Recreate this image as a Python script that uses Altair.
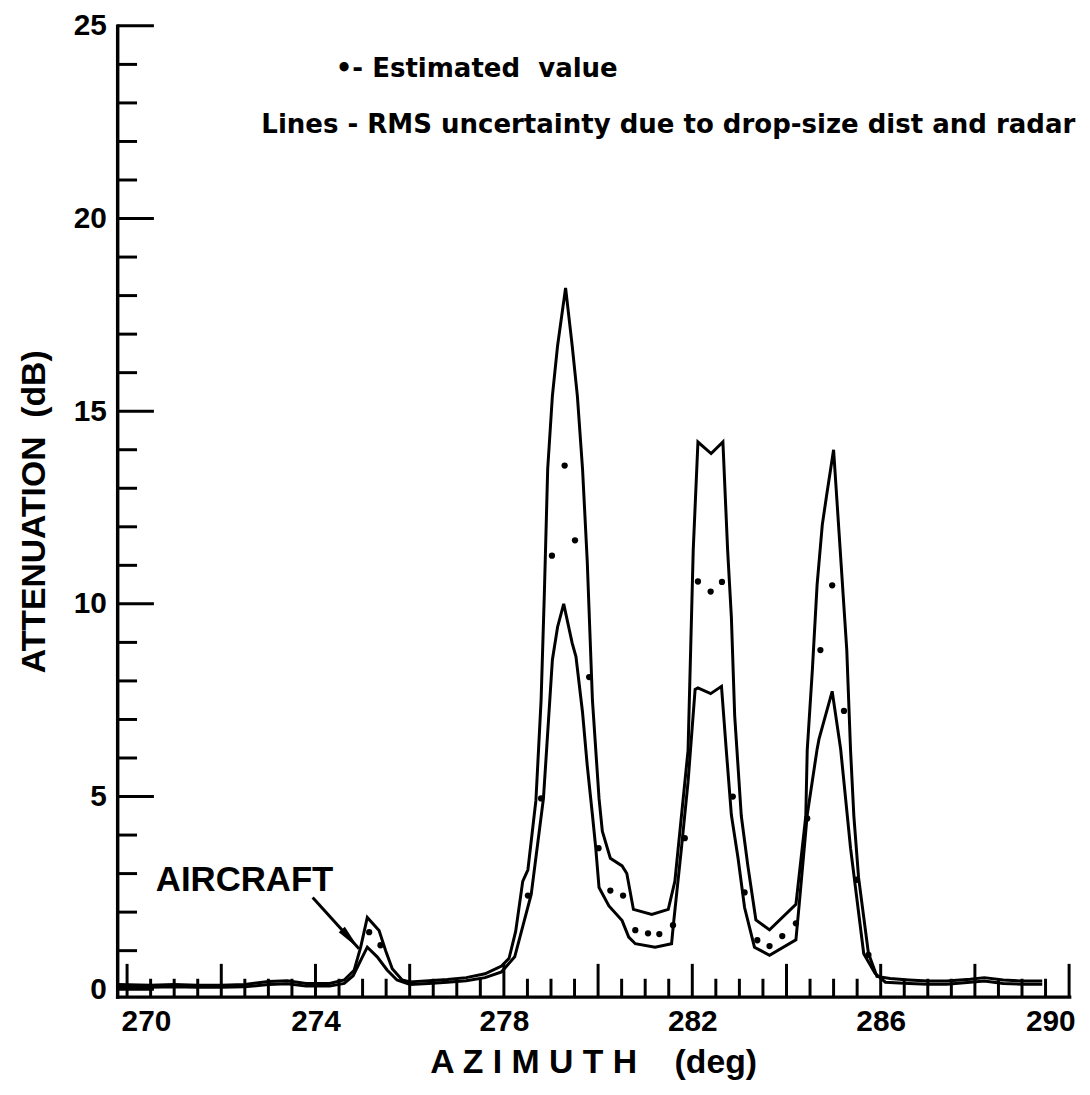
import altair as alt
import pandas as pd

# ---------------- data ----------------
# upper RMS-uncertainty line
upper_az = [269.8, 270.5, 271.0, 271.5, 272.0, 272.5, 273.0, 273.4, 273.8, 274.3,
            274.61, 274.82, 274.96, 275.10, 275.35, 275.49, 275.63, 275.84, 276.01, 276.4,
            276.8, 277.2, 277.6, 277.95, 278.11, 278.25, 278.40, 278.51, 278.68, 278.79,
            278.86, 278.93, 279.03, 279.14, 279.31, 279.45, 279.56, 279.67, 279.77, 279.88,
            280.02, 280.09, 280.26, 280.51, 280.61, 280.75, 281.14, 281.49, 281.63, 281.91,
            282.02, 282.12, 282.40, 282.65, 282.75, 282.83, 282.90, 283.04, 283.18, 283.35,
            283.64, 284.20, 284.41, 284.44, 284.55, 284.65, 284.76, 284.85, 285.00, 285.14,
            285.28, 285.36, 285.43, 285.53, 285.74, 285.92, 286.2, 286.6, 287.0, 287.4,
            287.9, 288.2, 288.6, 289.0, 289.43]
upper_db = [0.12, 0.10, 0.12, 0.10, 0.10, 0.12, 0.20, 0.22, 0.15, 0.15,
            0.24, 0.49, 1.09, 1.86, 1.52, 1.00, 0.53, 0.24, 0.19, 0.22,
            0.25, 0.30, 0.40, 0.60, 0.80, 1.50, 2.80, 3.10, 4.90, 7.50,
            10.3, 13.5, 15.4, 16.7, 18.2, 16.7, 15.4, 13.5, 11.1, 7.5,
            4.95, 4.1, 3.4, 3.2, 3.0, 2.07, 1.94, 2.07, 2.8, 6.2,
            11.4, 14.2, 13.9, 14.2, 11.4, 9.65, 7.1, 4.5, 3.2, 1.8,
            1.54, 2.2, 4.5, 6.2, 8.3, 10.5, 12.05, 12.8, 14.0, 11.4,
            8.8, 6.2, 4.5, 2.9, 0.93, 0.33, 0.28, 0.24, 0.21, 0.21,
            0.26, 0.30, 0.24, 0.21, 0.21]

# lower RMS-uncertainty line
lower_az = [269.8, 270.5, 271.0, 271.5, 272.0, 272.5, 273.0, 273.4, 273.8, 274.3,
            274.61, 274.80, 274.96, 275.10, 275.31, 275.52, 275.73, 276.01, 276.4, 276.8,
            277.2, 277.6, 277.95, 278.23, 278.58, 278.84, 279.03, 279.14, 279.27, 279.45,
            279.53, 279.67, 279.77, 279.88, 279.95, 280.02, 280.23, 280.51, 280.65, 280.79,
            281.21, 281.56, 281.60, 281.77, 281.91, 282.06, 282.12, 282.39, 282.62, 282.72,
            282.83, 282.97, 283.11, 283.32, 283.64, 284.20, 284.27, 284.44, 284.65, 284.69,
            284.97, 285.15, 285.36, 285.64, 285.88, 286.1, 286.6, 287.0, 287.4, 287.9,
            288.2, 288.6, 289.0, 289.43]
lower_db = [0.05, 0.05, 0.06, 0.05, 0.05, 0.06, 0.12, 0.14, 0.08, 0.08,
            0.15, 0.35, 0.75, 1.09, 0.84, 0.50, 0.24, 0.12, 0.15, 0.18,
            0.22, 0.30, 0.45, 0.84, 2.46, 4.95, 8.55, 9.4, 10.0, 8.98,
            8.63, 7.18, 5.8, 4.52, 3.67, 2.64, 2.16, 1.78, 1.35, 1.18,
            1.09, 1.18, 1.69, 3.66, 5.38, 7.78, 7.82, 7.67, 7.86, 6.23,
            4.52, 3.41, 2.12, 1.09, 0.88, 1.28, 2.2, 4.52, 6.23, 6.49,
            7.73, 6.23, 3.66, 0.92, 0.41, 0.18, 0.15, 0.13, 0.13, 0.18,
            0.21, 0.15, 0.13, 0.13]

# estimated values (dots)
est_az = [275.14, 275.38, 278.51, 278.79, 279.02, 279.29, 279.51, 279.81, 280.01, 280.26,
          280.53, 280.79, 281.06, 281.30, 281.59, 281.84, 282.12, 282.39, 282.63, 282.86,
          283.11, 283.38, 283.64, 283.91, 284.20, 284.44, 284.72, 284.97, 285.22, 285.49,
          285.74]
est_db = [1.48, 1.14, 2.43, 4.95, 11.25, 13.59, 11.65, 8.10, 3.66, 2.56,
          2.43, 1.53, 1.45, 1.43, 1.66, 3.92, 10.58, 10.32, 10.57, 5.00,
          2.51, 1.27, 1.12, 1.38, 1.71, 4.43, 8.80, 10.48, 7.22, 2.84,
          0.89]

# axis labels / ticks
x_label_values = [270, 274, 278, 282, 286, 290]
y_label_values = [0, 5, 10, 15, 20, 25]
x_major_ticks = [270, 272, 274, 276, 278, 280, 282, 284, 286, 288, 290]
x_minor_ticks = [270 + 0.5 * i for i in range(41) if (270 + 0.5 * i) not in x_major_ticks]
y_major_ticks = [0, 5, 10, 15, 20, 25]
y_minor_ticks = [v for v in range(26) if v not in y_major_ticks]

# annotations
note_text = ["\u2022- Estimated\u00a0\u00a0value",
             "Lines - RMS uncertainty due to drop-size dist and radar"]
note_az = [274.43, 272.85]
note_db = [23.87, 22.43]
aircraft_text = ["AIRCRAFT"]
aircraft_az = [270.61]
aircraft_db = [2.84]
arrow_start = (273.94, 2.38)
arrow_tip = (274.925, 1.05)

# ---------------- chart ----------------
X_DOMAIN = [269.79, 290.0]
Y_DOMAIN = [-0.193, 25.0]
W, H = 959, 978
INK = "#000000"
AX_FONT = "Liberation Sans"

x_scale = alt.Scale(domain=X_DOMAIN, nice=False, zero=False)
y_scale = alt.Scale(domain=Y_DOMAIN, nice=False, zero=False)

x_axis = alt.Axis(
    values=x_label_values, format="d",
    title="A Z I M U T H\u00a0\u00a0\u00a0\u00a0(deg)",
    ticks=False, tickSize=0, grid=False,
    domainColor=INK, domainWidth=3.5, domainCap="square",
    labelFont=AX_FONT, labelFontSize=30, labelFontWeight="bold", labelColor=INK,
    labelPadding=10, labelFlush=12, labelFlushOffset=6,
    titleFont=AX_FONT, titleFontSize=34, titleFontWeight="bold", titleColor=INK,
    titleBaseline="alphabetic", titleY=76,
)
y_axis = alt.Axis(
    values=y_label_values, format="d",
    title="ATTENUATION\u00a0\u00a0(dB)",
    ticks=False, tickSize=0, grid=False,
    domainColor=INK, domainWidth=3.5, domainCap="square",
    labelFont=AX_FONT, labelFontSize=30, labelFontWeight="bold", labelColor=INK,
    labelPadding=11, labelFlush=False,
    titleFont=AX_FONT, titleFontSize=34, titleFontWeight="bold", titleColor=INK,
    titleBaseline="alphabetic", titleX=-73, titleY=H / 2,
)


def X(field):
    return alt.X(f"{field}:Q", scale=x_scale, axis=x_axis)


def Y(field):
    return alt.Y(f"{field}:Q", scale=y_scale, axis=y_axis)


upper_df = pd.DataFrame({"az": upper_az, "db": upper_db})
lower_df = pd.DataFrame({"az": lower_az, "db": lower_db})
est_df = pd.DataFrame({"az": est_az, "db": est_db})

upper = alt.Chart(upper_df).mark_line(color=INK, strokeWidth=3).encode(
    x=X("az"), y=Y("db"), order="az:Q")
lower = alt.Chart(lower_df).mark_line(color=INK, strokeWidth=3).encode(
    x=X("az"), y=Y("db"), order="az:Q")
dots = alt.Chart(est_df).mark_circle(color=INK, size=40, opacity=1).encode(
    x=X("az"), y=Y("db"))

xmaj = alt.Chart(pd.DataFrame({"az": x_major_ticks})).mark_rule(color=INK, strokeWidth=3).encode(
    x=X("az"), y=alt.value(H), y2=alt.value(H - 33))
xmin = alt.Chart(pd.DataFrame({"az": x_minor_ticks})).mark_rule(color=INK, strokeWidth=3).encode(
    x=X("az"), y=alt.value(H), y2=alt.value(H - 18))
ymaj = alt.Chart(pd.DataFrame({"db": y_major_ticks})).mark_rule(color=INK, strokeWidth=3).encode(
    y=Y("db"), x=alt.value(0), x2=alt.value(37))
ymin = alt.Chart(pd.DataFrame({"db": y_minor_ticks})).mark_rule(color=INK, strokeWidth=3).encode(
    y=Y("db"), x=alt.value(0), x2=alt.value(20))

notes = alt.Chart(pd.DataFrame({"az": note_az, "db": note_db, "label": note_text})).mark_text(
    align="left", baseline="middle", font="DejaVu Sans", fontSize=26.2, fontWeight="bold", color=INK
).encode(x=X("az"), y=Y("db"), text="label:N")

aircraft = alt.Chart(pd.DataFrame({"az": aircraft_az, "db": aircraft_db, "label": aircraft_text})).mark_text(
    align="left", baseline="middle", font=AX_FONT, fontSize=35, fontWeight="bold", color=INK
).encode(x=X("az"), y=Y("db"), text="label:N")

arrow_df = pd.DataFrame({"az": [arrow_start[0]], "db": [arrow_start[1]],
                         "az2": [arrow_tip[0]], "db2": [arrow_tip[1]]})
arrow = alt.Chart(arrow_df).mark_rule(color=INK, strokeWidth=3).encode(
    x=X("az"), y=Y("db"), x2="az2:Q", y2="db2:Q")
head = alt.Chart(pd.DataFrame({"az": [arrow_tip[0]], "db": [arrow_tip[1]]})).mark_point(
    shape="M0,0 L-2,-0.32 L-2,0.32 Z", filled=True, size=676, angle=48,
    color=INK, opacity=1, strokeWidth=0
).encode(x=X("az"), y=Y("db"))

chart = alt.layer(
    xmin, xmaj, ymin, ymaj, upper, lower, dots, notes, aircraft, arrow, head
).properties(
    width=W, height=H,
    padding={"left": 110, "top": 14, "right": 13, "bottom": 80},
    autosize=alt.AutoSizeParams(type="none"),
    background="white",
).configure_view(stroke=None)

chart.save("out.html", embed_options={"renderer": "svg", "actions": False})
